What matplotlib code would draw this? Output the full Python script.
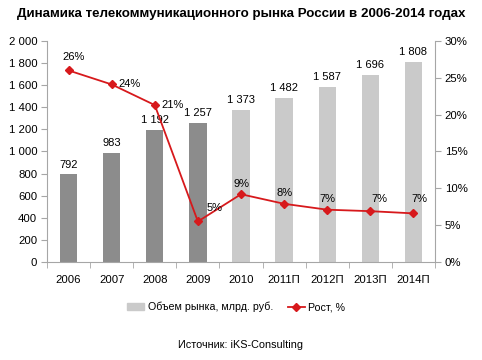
import numpy as np
import matplotlib.pyplot as plt
from matplotlib.patches import Patch
from matplotlib.lines import Line2D

plt.rcParams['font.family'] = ['Liberation Sans', 'DejaVu Sans']

years = ['2006', '2007', '2008', '2009', '2010', '2011П', '2012П', '2013П', '2014П']
volume = [792, 983, 1192, 1257, 1373, 1482, 1587, 1696, 1808]
growth = [26.0, 24.1, 21.3, 5.5, 9.2, 7.9, 7.1, 6.9, 6.6]
growth_labels = ['26%', '24%', '21%', '5%', '9%', '8%', '7%', '7%', '7%']

x = np.arange(len(years))
bar_colors = ['#8c8c8c'] * 4 + ['#cacaca'] * 5
gray = '#a6a6a6'
red = '#d7191c'

fig = plt.figure(figsize=(4.82, 3.6), dpi=100)
ax = fig.add_axes([0.0975, 0.2722, 0.805, 0.614])

ax.bar(x, volume, width=0.4, color=bar_colors, zorder=2)
for xi, v in zip(x, volume):
    ax.text(xi, v + 45, f'{v:,}'.replace(',', ' '), ha='center', va='bottom', fontsize=8)

ax.set_xlim(-0.5, 8.5)
ax.set_ylim(0, 2000)
ax.set_yticks(range(0, 2001, 200))
ax.set_yticklabels([f'{v:,}'.replace(',', ' ') for v in range(0, 2001, 200)])
ax.set_xticks(x)
ax.set_xticklabels(years)
ax.set_xticks(np.arange(-0.5, 9, 1), minor=True)
ax.tick_params(axis='x', which='major', length=0, labelsize=8.2, pad=9)
ax.tick_params(axis='x', which='minor', length=4, color=gray)
ax.tick_params(axis='y', length=4, color=gray, labelsize=8.2, pad=3)
for s in ['top', 'right']:
    ax.spines[s].set_visible(False)
for s in ['left', 'bottom']:
    ax.spines[s].set_color(gray)

ax2 = ax.twinx()
ax2.plot(x, growth, color=red, lw=1.3, marker='D', ms=4, zorder=3)
ax2.set_ylim(0, 30)
ax2.set_yticks(range(0, 31, 5))
ax2.set_yticklabels([f'{v}%' for v in range(0, 31, 5)])
ax2.tick_params(axis='y', length=4, color=gray, labelsize=8.2, pad=3)
for s in ['top', 'left', 'bottom']:
    ax2.spines[s].set_visible(False)
ax2.spines['right'].set_color(gray)

# (dx, dy, ha) offsets in points
offsets = [(4, 10, 'center'), (5, 0, 'left'), (4.5, 0, 'left'), (6.5, 10, 'left'),
           (0, 7.5, 'center'), (0, 7.5, 'center'), (0, 7.5, 'center'),
           (6.5, 9, 'center'), (4.5, 10, 'center')]
for xi, g, lab, (dx, dy, ha) in zip(x, growth, growth_labels, offsets):
    ax2.annotate(lab, (xi, g), xytext=(dx, dy), textcoords='offset points',
                 ha=ha, va='center', fontsize=8)

fig.text(0.5, 0.96, 'Динамика телекоммуникационного рынка России в 2006-2014 годах',
         ha='center', va='center', fontsize=9.6, fontweight='bold')

handles = [Patch(color='#cacaca'), Line2D([], [], color=red, marker='D', ms=4, lw=1.3)]
fig.legend(handles, ['Объем рынка, млрд. руб.', 'Рост, %'], loc='center',
           bbox_to_anchor=(0.49, 0.147), ncol=2, frameon=False, fontsize=7.7,
           handlelength=1.6, handleheight=0.7, handletextpad=0.3, columnspacing=1.4)

fig.text(0.5, 0.042, 'Источник: iKS-Consulting', ha='center', va='center', fontsize=7.8)

fig.savefig('out.png', dpi=100)
